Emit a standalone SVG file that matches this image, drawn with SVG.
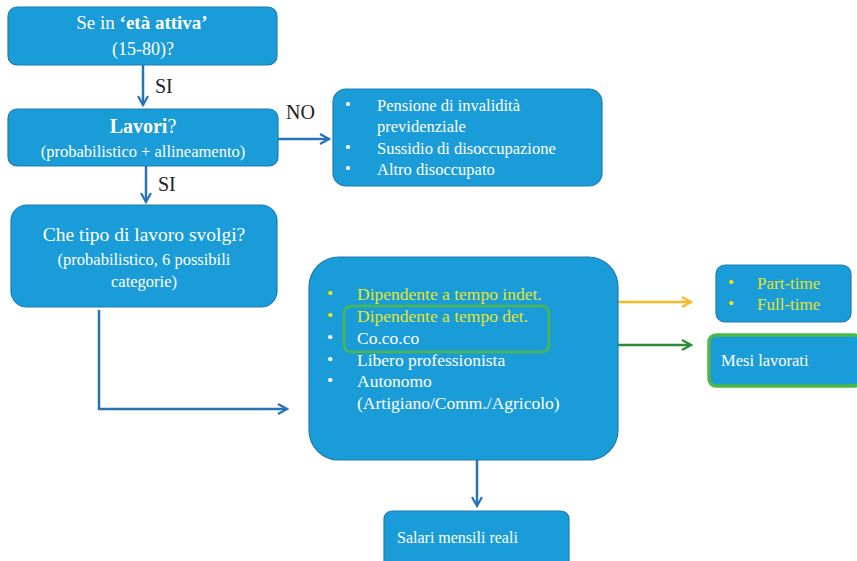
<svg xmlns="http://www.w3.org/2000/svg" width="857" height="561" viewBox="0 0 857 561">
<defs>
<style>
.box{fill:#1A9CD8;stroke:#1D7DAF;stroke-width:1.2}
.t{font-family:'Liberation Serif',serif;fill:#fff}
.m{text-anchor:middle}
.y{fill:#E3E52D}
.yb{fill:#F2E600}
.lbl{font-family:'Liberation Serif',serif;font-size:20px;fill:#222}
.con{fill:none;stroke-width:2.5}
</style>
<marker id="ab" viewBox="0 0 12 12" refX="10" refY="6" markerWidth="12" markerHeight="12" markerUnits="userSpaceOnUse" orient="auto"><path d="M1,1 L10,6 L1,11" fill="none" stroke="#2673B8" stroke-width="2.2"/></marker>
<marker id="ao" viewBox="0 0 12 12" refX="10" refY="6" markerWidth="12" markerHeight="12" markerUnits="userSpaceOnUse" orient="auto"><path d="M1,1 L10,6 L1,11" fill="none" stroke="#FDB827" stroke-width="2.2"/></marker>
<marker id="ag" viewBox="0 0 12 12" refX="10" refY="6" markerWidth="12" markerHeight="12" markerUnits="userSpaceOnUse" orient="auto"><path d="M1,1 L10,6 L1,11" fill="none" stroke="#2E8B3A" stroke-width="2.2"/></marker>
</defs>
<rect width="857" height="561" fill="#fff"/>
<g id="connectors">
<path class="con" stroke="#2673B8" d="M143,65 V105" marker-end="url(#ab)"/>
<path class="con" stroke="#2673B8" d="M146,166 V202" marker-end="url(#ab)"/>
<path class="con" stroke="#2673B8" d="M278,139 H329" marker-end="url(#ab)"/>
<path class="con" stroke="#2673B8" d="M99,310 V409 H287" marker-end="url(#ab)"/>
<path class="con" stroke="#FDB827" d="M618,302 H691" marker-end="url(#ao)"/>
<path class="con" stroke="#2E8B3A" d="M618,345 H691" marker-end="url(#ag)"/>
<path class="con" stroke="#2673B8" d="M477,460 V506" marker-end="url(#ab)"/>
<text class="lbl" x="155" y="93">SI</text>
<text class="lbl" x="158" y="191">SI</text>
<text class="lbl" x="286" y="119">NO</text>
</g>
<g id="n1">
<rect class="box" x="8" y="7" width="269" height="58" rx="9"/>
<text class="t m" x="142" y="29" font-size="19">Se in <tspan font-weight="bold">‘età attiva’</tspan></text>
<text class="t m" x="143" y="55" font-size="18">(15-80)?</text>
</g>
<g id="n2">
<rect class="box" x="8" y="109" width="270" height="57" rx="9"/>
<text class="t m" x="143" y="133" font-size="20"><tspan font-weight="bold">Lavori</tspan>?</text>
<text class="t m" x="143" y="157" font-size="16.5">(probabilistico + allineamento)</text>
</g>
<g id="n3">
<rect class="box" x="333" y="89" width="269" height="97" rx="13"/>
<text class="t" x="345" y="110" font-size="16.5">•</text>
<text class="t" x="377" y="111" font-size="16.5">Pensione di invalidità</text>
<text class="t" x="377" y="132" font-size="16.5">previdenziale</text>
<text class="t" x="345" y="153" font-size="16.5">•</text>
<text class="t" x="377" y="154" font-size="16.5">Sussidio di disoccupazione</text>
<text class="t" x="345" y="174" font-size="16.5">•</text>
<text class="t" x="377" y="175" font-size="16.5">Altro disoccupato</text>
</g>
<g id="n4">
<rect class="box" x="11" y="205" width="266" height="102" rx="16"/>
<text class="t m" x="144" y="241" font-size="19.5">Che tipo di lavoro svolgi?</text>
<text class="t m" x="144" y="265" font-size="16.5">(probabilistico, 6 possibili</text>
<text class="t m" x="144" y="287" font-size="16.5">categorie)</text>
</g>
<g id="n5">
<rect class="box" x="309" y="257" width="309" height="203" rx="30"/>
<text class="t yb" x="327" y="299" font-size="17.5">•</text>
<text class="t y" x="357" y="300" font-size="17.5">Dipendente a tempo indet.</text>
<text class="t yb" x="327" y="321" font-size="17.5">•</text>
<text class="t y" x="357" y="322" font-size="17.5">Dipendente a tempo det.</text>
<text class="t" x="327" y="343" font-size="17.5">•</text>
<text class="t" x="357" y="344" font-size="17.5">Co.co.co</text>
<text class="t" x="327" y="365" font-size="17.5">•</text>
<text class="t" x="357" y="366" font-size="17.5">Libero professionista</text>
<text class="t" x="327" y="386" font-size="17.5">•</text>
<text class="t" x="357" y="387" font-size="17.5">Autonomo</text>
<text class="t" x="357" y="409" font-size="17.5">(Artigiano/Comm./Agricolo)</text>
<rect x="344" y="306" width="205" height="46" rx="7" fill="none" stroke="#4DB848" stroke-width="2.5"/>
</g>
<g id="n6">
<rect class="box" x="716" y="265" width="135" height="57" rx="9"/>
<text class="t yb" x="728" y="288" font-size="17">•</text>
<text class="t y" x="757" y="289" font-size="17">Part-time</text>
<text class="t yb" x="728" y="309" font-size="17">•</text>
<text class="t y" x="757" y="310" font-size="17">Full-time</text>
</g>
<g id="n7">
<rect x="709" y="335" width="152" height="51" rx="7" fill="#1A9CD8" stroke="#4DB848" stroke-width="3.5"/>
<text class="t" x="721" y="366" font-size="16.5">Mesi lavorati</text>
</g>
<g id="n8">
<rect class="box" x="384" y="511" width="185" height="60" rx="8"/>
<text class="t" x="397" y="543" font-size="16">Salari mensili reali</text>
</g>
</svg>
